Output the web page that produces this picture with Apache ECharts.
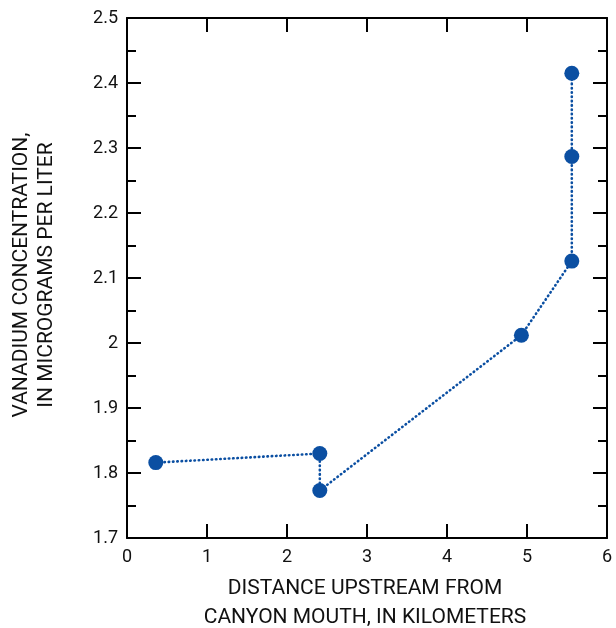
<!DOCTYPE html>
<html><head><meta charset="utf-8">
<script src="https://cdn.jsdelivr.net/npm/echarts@6/dist/echarts.min.js"></script>
<style>html,body{margin:0;padding:0;background:#fff}#c{width:616px;height:628px}</style>
</head><body><div id="c"></div>
<script>
const distanceKm = [0.36, 2.41, 2.41, 4.93, 5.56, 5.56, 5.56];
const vanadium = [1.816, 1.830, 1.773, 2.012, 2.126, 2.287, 2.415];
const xTicks = [0, 1, 2, 3, 4, 5, 6];
const yTicks = [1.7, 1.8, 1.9, 2.0, 2.1, 2.2, 2.3, 2.4, 2.5];
const xTitle = 'DISTANCE UPSTREAM FROM\nCANYON MOUTH, IN KILOMETERS';
const yTitle = 'VANADIUM CONCENTRATION,\nIN MICROGRAMS PER LITER';

const FONT = 'Roboto';
const blue = '#0b4fa2';
const axisLine = () => ({show: true, onZero: false, lineStyle: {color: '#000', width: 2}});
const tick = () => ({show: true, inside: true, length: 14, lineStyle: {color: '#000', width: 2}});
const minor = () => ({show: true, splitNumber: 2, length: 9, lineStyle: {color: '#000', width: 2}});
const chart = echarts.init(document.getElementById('c'));
chart.setOption({
  animation: false,
  grid: {left: 127, right: 9, top: 18, bottom: 90, outerBoundsMode: 'none', containLabel: false},
  xAxis: [{
    type: 'value', min: xTicks[0], max: xTicks[xTicks.length - 1], interval: 1,
    axisLine: axisLine(), axisTick: tick(), splitLine: {show: false},
    axisLabel: {margin: 10, fontFamily: FONT, fontSize: 18, color: '#111'}
  }, {
    type: 'value', position: 'top', min: xTicks[0], max: xTicks[xTicks.length - 1], interval: 1,
    axisLine: axisLine(), axisTick: tick(), axisLabel: {show: false}, splitLine: {show: false}
  }],
  yAxis: [{
    type: 'value', min: yTicks[0], max: yTicks[yTicks.length - 1], interval: 0.1,
    axisLine: axisLine(), axisTick: tick(), minorTick: minor(), splitLine: {show: false},
    axisLabel: {margin: 9, fontFamily: FONT, fontSize: 18, color: '#111'}
  }, {
    type: 'value', position: 'right', min: yTicks[0], max: yTicks[yTicks.length - 1], interval: 0.1,
    axisLine: axisLine(), axisTick: tick(), minorTick: minor(),
    axisLabel: {show: false}, splitLine: {show: false}
  }],
  graphic: [{
    type: 'text', x: 365, y: 603.5,
    style: {text: xTitle, align: 'center', verticalAlign: 'middle', textAlign: 'center', textVerticalAlign: 'middle',
      fontFamily: FONT, fontSize: 21, lineHeight: 29, fill: '#111'}
  }, {
    type: 'text', x: 34.5, y: 275, rotation: Math.PI / 2,
    style: {text: yTitle, align: 'center', verticalAlign: 'middle', textAlign: 'center', textVerticalAlign: 'middle',
      fontFamily: FONT, fontSize: 21, lineHeight: 25, fill: '#111'}
  }],
  series: [{
    type: 'line',
    data: distanceKm.map((x, i) => [x, vanadium[i]]),
    symbol: 'circle', symbolSize: 15,
    itemStyle: {color: blue},
    lineStyle: {color: blue, width: 2.6, type: [0.5, 3.8], cap: 'round'}
  }]
});
</script></body></html>
